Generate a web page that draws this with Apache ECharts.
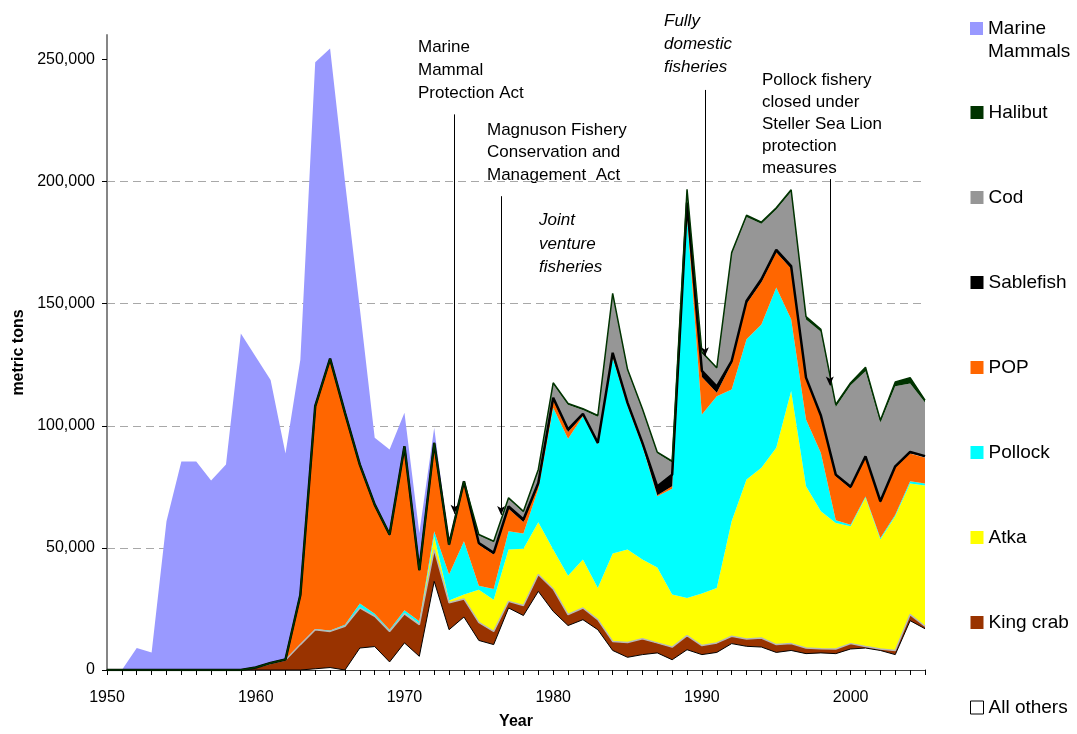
<!DOCTYPE html>
<html>
<head>
<meta charset="utf-8">
<script src="https://cdn.jsdelivr.net/npm/echarts@6/dist/echarts.min.js"></script>
<style>
  html, body { margin: 0; padding: 0; background: #fff; }
  #chart { width: 1077px; height: 734px; }
</style>
</head>
<body>
<div id="chart"></div>
<script>
// catch by group, metric tons, 1950-2005
const years = [1950, 1951, 1952, 1953, 1954, 1955, 1956, 1957, 1958, 1959,
  1960, 1961, 1962, 1963, 1964, 1965, 1966, 1967, 1968, 1969,
  1970, 1971, 1972, 1973, 1974, 1975, 1976, 1977, 1978, 1979,
  1980, 1981, 1982, 1983, 1984, 1985, 1986, 1987, 1988, 1989,
  1990, 1991, 1992, 1993, 1994, 1995, 1996, 1997, 1998, 1999,
  2000, 2001, 2002, 2003, 2004, 2005]

const allOthers = [0, 0, 0, 0, 0, 0, 0, 0, 0, 0,
  0, 0, 0, 0, 500, 1000, 0, 9000, 9600, 3300,
  11100, 5600, 36300, 16500, 21700, 12100, 10400, 25400, 22300, 32200,
  24000, 18200, 20600, 16500, 8000, 5200, 6300, 7000, 4200, 8300,
  6300, 7200, 10800, 9700, 9400, 7200, 8000, 6700, 7000, 6700,
  8600, 9000, 8000, 6300, 20200, 16900]

const kingCrab = [0, 0, 0, 0, 0, 0, 0, 0, 0, 0,
  1000, 2700, 4100, 10400, 16000, 14800, 17900, 16400, 12400, 12500,
  11900, 13000, 13000, 11000, 7400, 7400, 5400, 2700, 4100, 6900,
  9200, 4500, 4800, 4100, 3700, 6100, 6500, 4100, 5200, 5800,
  3700, 3900, 3000, 3000, 3700, 3200, 2800, 2300, 1700, 1900,
  2200, 600, 600, 1700, 2500, 1000]

const atka = [0, 0, 0, 0, 0, 0, 0, 0, 0, 0,
  0, 0, 0, 0, 0, 0, 0, 0, 0, 0,
  300, 400, 5500, 1000, 1800, 13400, 13000, 21200, 23200, 21400,
  16100, 15900, 19800, 13000, 36000, 38000, 32400, 30900, 21500, 15400,
  21300, 22500, 47100, 65300, 69700, 80600, 103400, 66200, 56300, 51600,
  48100, 60900, 44800, 55000, 53700, 57600]

const pollock = [0, 0, 0, 0, 0, 0, 0, 0, 0, 0,
  0, 0, 0, 0, 300, 400, 600, 1800, 1000, 700,
  1200, 1000, 2000, 10600, 21800, 1600, 4400, 7500, 6300, 13700,
  58100, 56100, 58700, 58700, 80200, 58700, 46400, 29100, 43300, 156500,
  73300, 78500, 54000, 57400, 58700, 65600, 29400, 27400, 23900, 1100,
  600, 500, 600, 600, 900, 900]

const pop = [0, 0, 0, 0, 0, 0, 0, 0, 0, 0,
  0, 0, 0, 19800, 90400, 110600, 86100, 56200, 44000, 38300,
  66400, 20200, 35500, 11600, 23900, 16800, 14100, 9200, 4700, 1400,
  3100, 2800, 300, 200, 600, 500, 400, 500, 1000, 2000,
  15400, 1400, 10600, 14600, 17300, 14400, 20700, 16400, 14600, 18000,
  14800, 15800, 14400, 19200, 11300, 10500]

const sablefish = [0, 0, 0, 0, 0, 0, 0, 0, 0, 0,
  0, 200, 200, 500, 800, 700, 700, 700, 700, 700,
  700, 700, 700, 700, 700, 700, 700, 1000, 1000, 1000,
  1000, 1000, 700, 500, 1400, 900, 1000, 3500, 4800, 3400,
  2500, 2500, 1000, 1100, 1200, 1000, 1100, 700, 700, 700,
  700, 700, 700, 600, 700, 600]

const cod = [0, 0, 0, 0, 0, 0, 0, 0, 0, 0,
  0, 0, 0, 0, 0, 0, 0, 0, 0, 0,
  0, 0, 0, 0, 0, 3200, 4400, 3000, 2900, 5000,
  5600, 10100, 1600, 10700, 23800, 13200, 13500, 13600, 5000, 4900,
  7200, 7300, 43900, 34400, 22700, 16600, 30500, 23800, 34300, 27700,
  41600, 34800, 32200, 32800, 28000, 22000]

const halibut = [0, 0, 0, 0, 0, 0, 0, 0, 0, 0,
  0, 0, 0, 0, 0, 0, 0, 0, 0, 0,
  0, 0, 0, 0, 0, 300, 300, 500, 500, 500,
  500, 500, 500, 500, 500, 500, 500, 500, 500, 500,
  500, 500, 500, 700, 700, 700, 700, 1200, 1000, 1000,
  1000, 1700, 1000, 1700, 2400, 1000]

const marineMammals = [0, 0, 9000, 7200, 60900, 85400, 85400, 77600, 84100, 137800,
  127300, 115800, 84300, 96300, 140800, 127000, 94700, 63900, 27400, 34800,
  13700, 15200, 6200, 600, 500, 0, 0, 0, 0, 0,
  0, 0, 0, 0, 0, 0, 0, 0, 0, 0,
  0, 0, 0, 0, 0, 0, 0, 0, 0, 0,
  0, 0, 0, 0, 0, 0]

const yearLabels = [1950, 1960, 1970, 1980, 1990, 2000]
const tonTicks = [0, 50000, 100000, 150000, 200000, 250000]

// bottom of the stack first
const groupNames = ['All others', 'King crab', 'Atka', 'Pollock', 'POP', 'Sablefish', 'Cod', 'Halibut', 'Marine Mammals']
const groupValues = [allOthers, kingCrab, atka, pollock, pop, sablefish, cod, halibut, marineMammals]
const groupColors = ['#ffffff', '#993300', '#ffff00', '#00ffff', '#ff6600', '#000000', '#969696', '#003300', '#9999ff']
const groupEdges = [
  { color: '#000000', width: 1 },
  { color: '#b8b8b8', width: 1.5 },
  { width: 0 },
  { width: 0 },
  { width: 0 },
  { color: '#000000', width: 2.5 },
  { width: 0 },
  { color: '#003300', width: 1.5 },
  { width: 0 },
]

// arrows: year, from (tons), to (tons)
const arrows = [
  { year: 1973.37, from: 227500, to: 64000 },
  { year: 1976.5, from: 194000, to: 63500 },
  { year: 1990.2, from: 237500, to: 128500 },
  { year: 1998.6, from: 201000, to: 116500 },
]

const notes = [
  { text: 'Marine\nMammal\nProtection Act', left: 418, top: 36, lh: 23, italic: false },
  { text: 'Magnuson Fishery\nConservation and\nManagement  Act', left: 487, top: 119, lh: 22.5, italic: false },
  { text: 'Joint\nventure\nfisheries', left: 539, top: 209, lh: 23.3, italic: true },
  { text: 'Fully\ndomestic\nfisheries', left: 664, top: 10, lh: 23, italic: true },
  { text: 'Pollock fishery\nclosed under\nSteller Sea Lion\nprotection\nmeasures', left: 762, top: 69, lh: 22, italic: false },
]

const font = '"Liberation Sans", Arial, sans-serif'

const chart = echarts.init(document.getElementById('chart'), null, { renderer: 'canvas' })

const legendItem = (name) => {
  const i = groupNames.indexOf(name)
  return {
    name: name,
    itemStyle: name === 'All others'
      ? { color: '#ffffff', borderColor: '#000000', borderWidth: 1 }
      : { color: groupColors[i], borderWidth: 0 }
  }
}

const legendBase = {
  orient: 'vertical',
  left: 970,
  padding: 0,
  icon: 'rect',
  itemWidth: 13,
  itemHeight: 13,
  selectedMode: false,
  itemStyle: { borderWidth: 0 },
}

let option = {
  animation: false,
  backgroundColor: '#ffffff',
  textStyle: { fontFamily: font },
  grid: {
    left: 107,
    right: 152,
    top: 35,
    bottom: 64,
    containLabel: false,
    outerBoundsMode: 'none',
  },
  legend: [
    Object.assign({}, legendBase, {
      top: -6,
      data: [legendItem('Marine Mammals')],
      // blank first line keeps the icon level with "Marine"
      formatter: () => '\u00a0\nMarine\nMammals',
      textStyle: { fontFamily: font, fontSize: 19, lineHeight: 23, color: '#000' },
    }),
    Object.assign({}, legendBase, {
      top: 101,
      itemGap: 62,
      data: ['Halibut', 'Cod', 'Sablefish', 'POP', 'Pollock', 'Atka', 'King crab', 'All others'].map(legendItem),
      textStyle: { fontFamily: font, fontSize: 19, lineHeight: 23, color: '#000' },
    }),
  ],
  xAxis: {
    type: 'value',
    min: 1950,
    max: 2005,
    interval: 10,
    name: 'Year',
    nameLocation: 'middle',
    nameGap: 44,
    nameTextStyle: { fontFamily: font, fontSize: 16, fontWeight: 'bold', color: '#000' },
    axisLine: { show: true, onZero: false, lineStyle: { color: '#000', width: 1.5 } },
    axisTick: { show: true, length: 5, customValues: years, lineStyle: { color: '#000', width: 1 } },
    axisLabel: {
      customValues: yearLabels,
      formatter: (v) => String(v),
      fontFamily: font,
      fontSize: 16,
      color: '#000',
      margin: 20,
    },
    splitLine: { show: false },
  },
  yAxis: {
    type: 'value',
    min: 0,
    max: 260000,
    interval: 50000,
    name: 'metric tons',
    nameLocation: 'middle',
    nameGap: 80,
    nameTextStyle: { fontFamily: font, fontSize: 16, fontWeight: 'bold', color: '#000' },
    axisLine: { show: true, lineStyle: { color: '#868686', width: 2 } },
    axisTick: { show: true, length: 5, customValues: tonTicks, lineStyle: { color: '#000', width: 1 } },
    axisLabel: {
      customValues: tonTicks,
      formatter: (v) => v.toLocaleString('en-US'),
      fontFamily: font,
      fontSize: 16,
      color: '#000',
      margin: 12,
    },
    splitLine: {
      show: true,
      showMinLine: false,
      showMaxLine: false,
      lineStyle: { color: '#a8a8a8', width: 1, type: [8, 5] },
    },
  },
  series: groupNames.map((name, i) => ({
    name: name,
    type: 'line',
    stack: 'catch',
    symbol: 'none',
    silent: true,
    emphasis: { disabled: true },
    // value first so the stack runs on the tonnage, not on the year
    data: years.map((y, j) => [groupValues[i][j], y]),
    encode: { x: 1, y: 0 },
    itemStyle: { color: groupColors[i] },
    lineStyle: groupEdges[i],
    areaStyle: { color: groupColors[i], opacity: 1 },
    markLine: name === 'Marine Mammals' ? {
      silent: true,
      symbol: ['none', 'arrow'],
      symbolSize: [6, 9],
      label: { show: false },
      lineStyle: { color: '#000', width: 1, type: 'solid' },
      emphasis: { disabled: true },
      data: arrows.map(a => [{ coord: [a.year, a.from] }, { coord: [a.year, a.to] }]),
    } : undefined,
  })),
  graphic: notes.map(n => ({
    type: 'text',
    left: n.left,
    top: n.top,
    silent: true,
    style: {
      text: n.text,
      fontFamily: font,
      fontSize: 17,
      fontStyle: n.italic ? 'italic' : 'normal',
      lineHeight: n.lh,
      fill: '#000',
    },
  })),
}

chart.setOption(option)
</script>
</body>
</html>
